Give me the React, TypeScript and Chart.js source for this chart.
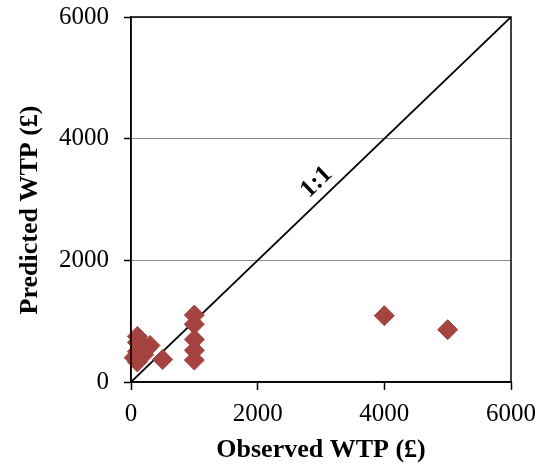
import React, { useEffect, useRef } from 'react';
import { Chart, registerables } from 'chart.js';

Chart.register(...registerables);

const observedWTP = [50, 100, 100, 100, 100, 200, 200, 250, 300, 500, 1000, 1000, 1000, 1000, 1000, 4000, 5000];
const predictedWTP = [400, 330, 500, 650, 750, 450, 600, 550, 600, 370, 1100, 950, 700, 520, 360, 1090, 860];
const identityX = [0, 6000];
const identityY = [0, 6000];
const axisMin = 0;
const axisMax = 6000;
const axisStep = 2000;
const xTitle = 'Observed WTP (£)';
const yTitle = 'Predicted WTP (£)';
const lineLabel = '1:1';

const FONT = "'Liberation Serif', 'Times New Roman', serif";

const decorPlugin = {
  id: 'decor',
  afterDraw(chart: any) {
    const { ctx, chartArea, scales } = chart;
    const xs = scales.x;
    const ys = scales.y;
    ctx.save();
    // plot border
    ctx.strokeStyle = '#000';
    ctx.lineWidth = 1.5;
    ctx.strokeRect(chartArea.left, chartArea.top, chartArea.right - chartArea.left, chartArea.bottom - chartArea.top);
    // titles
    ctx.fillStyle = '#000';
    ctx.font = `bold 26px ${FONT}`;
    ctx.textAlign = 'center';
    ctx.textBaseline = 'middle';
    ctx.fillText(xTitle, (chartArea.left + chartArea.right) / 2, 450);
    ctx.save();
    ctx.translate(30, 210);
    ctx.rotate(-Math.PI / 2);
    ctx.fillText(yTitle, 0, 0);
    ctx.restore();
    // 1:1 label
    const angle = Math.atan2(
      ys.getPixelForValue(identityY[1]) - ys.getPixelForValue(identityY[0]),
      xs.getPixelForValue(identityX[1]) - xs.getPixelForValue(identityX[0])
    );
    const px = xs.getPixelForValue(3100);
    const py = ys.getPixelForValue(3100);
    ctx.translate(px, py);
    ctx.rotate(angle);
    ctx.font = `bold 25px ${FONT}`;
    ctx.textBaseline = 'bottom';
    ctx.fillText(lineLabel, 0, -3);
    ctx.restore();
  },
};

export default function App() {
  const ref = useRef<HTMLCanvasElement>(null);
  useEffect(() => {
    if (!ref.current) return;
    const tickFont = { family: FONT, size: 25 };
    const fmt = (v: any) => String(v);
    const chart = new Chart(ref.current, {
      type: 'scatter',
      data: {
        datasets: [
          {
            type: 'line',
            data: identityX.map((x, i) => ({ x, y: identityY[i] })),
            borderColor: '#000',
            borderWidth: 1.8,
            pointRadius: 0,
            fill: false,
            order: 2,
          } as any,
          {
            type: 'scatter',
            data: observedWTP.map((x, i) => ({ x, y: predictedWTP[i] })),
            pointStyle: 'rectRot',
            pointRadius: 10,
            backgroundColor: '#A4433F',
            borderColor: '#A4433F',
            borderWidth: 1,
            clip: false,
            order: 1,
          } as any,
        ],
      },
      options: {
        animation: false,
        responsive: true,
        maintainAspectRatio: false,
        layout: { padding: { top: 17, right: 44, left: 0, bottom: 0 } },
        plugins: { legend: { display: false }, tooltip: { enabled: false } },
        scales: {
          x: {
            type: 'linear',
            min: axisMin,
            max: axisMax,
            ticks: { stepSize: axisStep, font: tickFont, color: '#000', padding: 9, callback: fmt },
            grid: { drawOnChartArea: false, tickLength: 8, tickColor: '#000', tickWidth: 1.5 },
            border: { color: '#000', width: 1.5 },
            afterFit: (s: any) => { s.height = 86; s.paddingLeft = 0; s.paddingRight = 0; },
          },
          y: {
            type: 'linear',
            min: axisMin,
            max: axisMax,
            ticks: { stepSize: axisStep, font: tickFont, color: '#000', padding: 15, callback: fmt },
            grid: { color: '#8c8c8c', lineWidth: 1, tickLength: 7, tickColor: '#000', tickWidth: 1.5 },
            border: { color: '#000', width: 1.5 },
            afterFit: (s: any) => { s.width = 131; s.paddingTop = 0; s.paddingBottom = 0; },
          },
        },
      } as any,
      plugins: [decorPlugin],
    });
    return () => chart.destroy();
  }, []);
  return (
    <div style={{ position: 'fixed', left: 0, top: 0, width: 555, height: 468, background: '#fff' }}>
      <canvas ref={ref} />
    </div>
  );
}
